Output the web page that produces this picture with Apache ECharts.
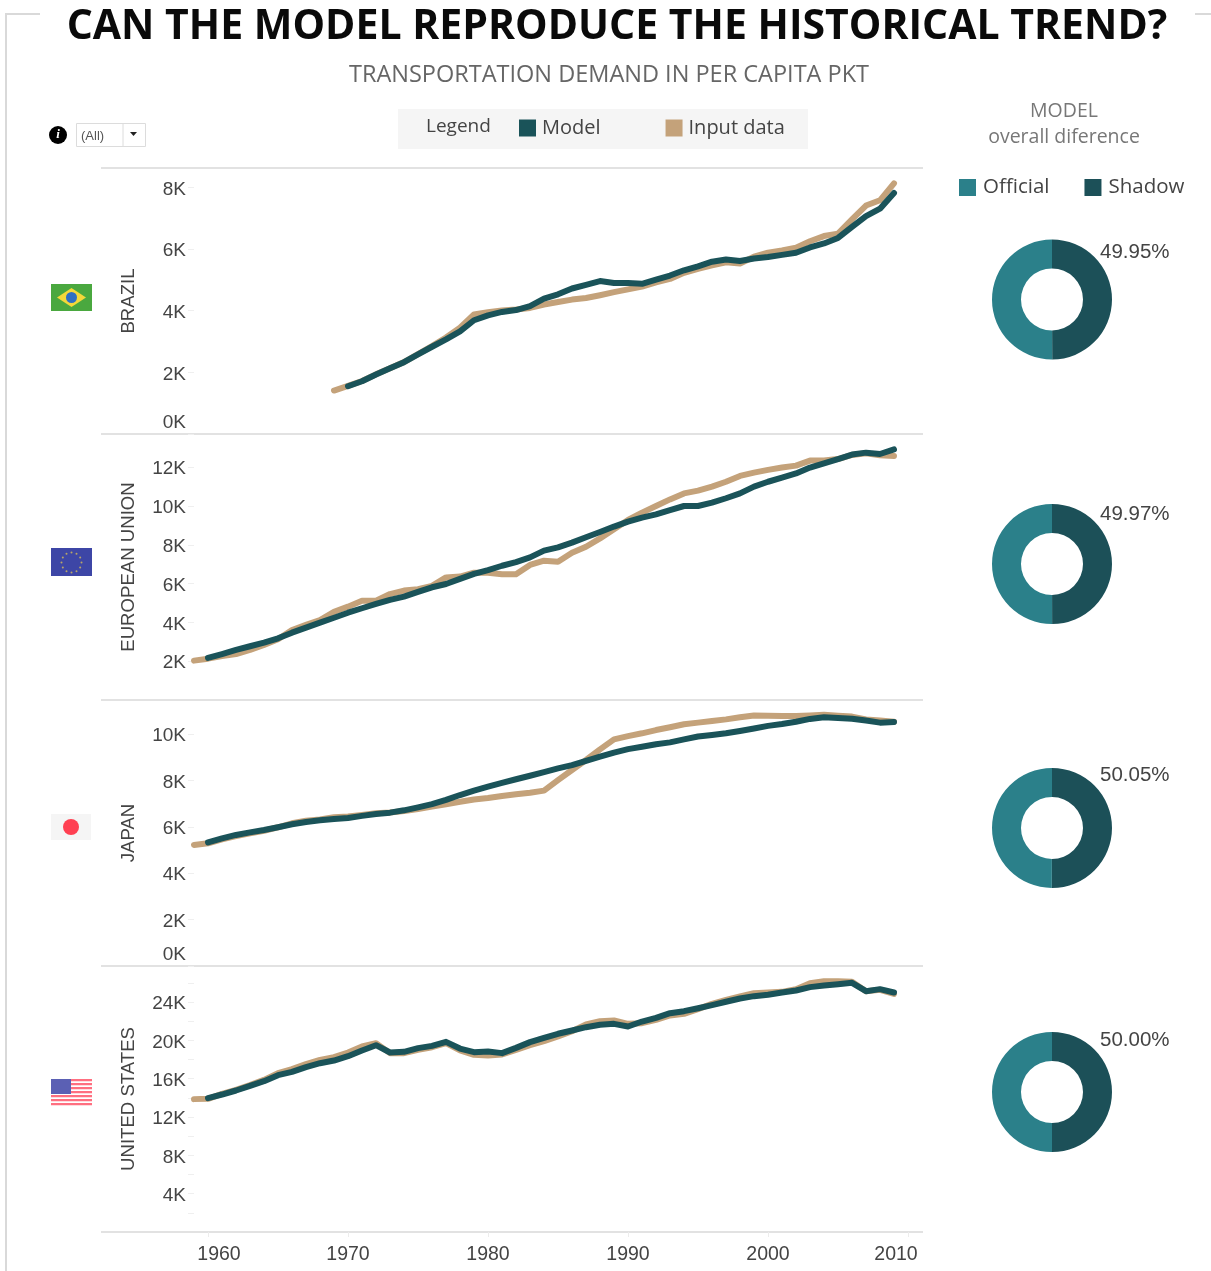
<!DOCTYPE html>
<html>
<head>
<meta charset="utf-8">
<style>html,body{margin:0;padding:0;background:#fff}#chart{width:1211px;height:1271px}</style>
<script src="https://cdn.jsdelivr.net/npm/echarts@6/dist/echarts.min.js"></script>
</head>
<body>
<div id="chart"></div>
<script>
// Passenger-km per capita, one pair of series per region.
const brazilInputStart = 1969;
const brazilInput = [1410,1560,1720,1935,2130,2335,2590,2850,3130,3450,3880,3950,4010,4040,4090,4200,4280,4360,4410,4500,4600,4690,4780,4920,5030,5230,5360,5470,5570,5530,5750,5880,5950,6040,6250,6420,6500,6960,7410,7580,8130];
const brazilModelStart = 1970;
const brazilModel = [1550,1710,1930,2130,2330,2580,2830,3070,3330,3690,3850,3960,4020,4150,4390,4530,4720,4840,4960,4900,4900,4870,5010,5140,5310,5440,5590,5660,5610,5690,5740,5810,5880,6050,6180,6360,6720,7070,7310,7820];

const euInputStart = 1959;
const euInput = [2030,2130,2270,2370,2580,2840,3130,3610,3870,4120,4550,4810,5120,5120,5460,5640,5710,5880,6320,6360,6560,6560,6480,6480,6960,7180,7130,7590,7900,8330,8800,9280,9660,10000,10340,10650,10790,11000,11250,11550,11720,11860,11980,12080,12340,12340,12420,12630,12720,12610,12580];
const euModelStart = 1960;
const euModel = [2170,2370,2580,2770,2960,3180,3470,3730,3990,4240,4500,4730,4950,5160,5330,5570,5810,5980,6240,6500,6700,6920,7110,7350,7700,7870,8110,8390,8660,8940,9190,9400,9570,9790,10000,10000,10170,10400,10650,11000,11250,11460,11680,11980,12200,12420,12650,12750,12680,12920];

const japanInputStart = 1959;
const japanInput = [5220,5290,5460,5600,5720,5830,5980,6150,6260,6320,6410,6440,6510,6580,6620,6680,6770,6870,6970,7080,7180,7240,7330,7400,7470,7560,8010,8450,8880,9340,9770,9910,10030,10170,10290,10420,10490,10560,10630,10720,10800,10790,10780,10780,10800,10830,10790,10750,10630,10580,10530];
const japanModelStart = 1960;
const japanModel = [5330,5500,5650,5760,5860,5980,6110,6210,6280,6340,6380,6470,6550,6610,6710,6840,6980,7160,7370,7560,7730,7890,8050,8200,8360,8520,8660,8840,9020,9200,9350,9450,9560,9640,9770,9890,9960,10030,10130,10240,10350,10430,10530,10650,10720,10690,10660,10580,10490,10520];

const usInputStart = 1959;
const usInput = [13870,13900,14420,14840,15330,15880,16580,17000,17520,17970,18250,18740,19360,19710,18670,18670,19020,19290,19710,18950,18490,18420,18530,19020,19500,19920,20410,20960,21660,22010,22080,21730,21800,22150,22600,22770,23260,23820,24230,24580,24930,25000,25070,25350,25970,26180,26180,26110,25140,25280,24860];
const usModelStart = 1960;
const usModel = [13970,14350,14770,15260,15740,16370,16720,17210,17620,17900,18350,18950,19500,18740,18810,19190,19430,19850,19150,18770,18840,18670,19220,19820,20270,20690,21030,21380,21630,21730,21450,21970,22360,22840,23050,23360,23680,24030,24370,24620,24760,25000,25210,25560,25730,25870,26010,25140,25350,25000];

// Model share of the overall difference, Shadow slice, in percent.
const regions = ['BRAZIL', 'EUROPEAN UNION', 'JAPAN', 'UNITED STATES'];
const shadowShare = [49.95, 49.97, 50.05, 50.00];
const officialShare = [50.05, 50.03, 49.95, 50.00];

// Axis ticks and labels.
const xLabelYears = [1960, 1970, 1980, 1990, 2000, 2010];
const brazilLabels = [0, 2000, 4000, 6000, 8000];
const euLabels = [2000, 4000, 6000, 8000, 10000, 12000];
const japanLabels = [0, 2000, 4000, 6000, 8000, 10000];
const usLabels = [4000, 8000, 12000, 16000, 20000, 24000];
const usTicks = [2000,4000,6000,8000,10000,12000,14000,16000,18000,20000,22000,24000,26000];

const COLOR_MODEL = '#1a5359';
const COLOR_INPUT = '#c4a27a';
const COLOR_OFFICIAL = '#2b808a';
const COLOR_SHADOW = '#1c5058';
const TEXT = '#444';
const RULE = '#e2e2e2';
const TICK_FONT = 'Liberation Sans';
const UI_FONT = 'Open Sans';

const panels = [
  { top: 168, max: 8628, ticks: brazilLabels, labels: brazilLabels,
    input: [brazilInputStart, brazilInput], model: [brazilModelStart, brazilModel], cy: 299.5, labelY: 252 },
  { top: 434, max: 13711, ticks: euLabels, labels: euLabels,
    input: [euInputStart, euInput], model: [euModelStart, euModel], cy: 564, labelY: 514 },
  { top: 700, max: 11466, ticks: japanLabels, labels: japanLabels,
    input: [japanInputStart, japanInput], model: [japanModelStart, japanModel], cy: 828, labelY: 775 },
  { top: 966, max: 27766, ticks: usTicks, labels: usLabels,
    input: [usInputStart, usInput], model: [usModelStart, usModel], cy: 1092, labelY: 1040 }
];

const byYear = ([start, values]) => values.map((v, i) => [start + i, v]);

const lineSeries = (name, color, source, i, z) => ({
  type: 'line', name, xAxisIndex: i, yAxisIndex: i, z,
  data: byYear(source), showSymbol: false, symbol: 'none', smooth: false,
  lineStyle: { color, width: 6, cap: 'round', join: 'round' },
  itemStyle: { color }
});

const series = [];
panels.forEach((p, i) => {
  series.push(lineSeries('Input data', COLOR_INPUT, p.input, i, 2));
  series.push(lineSeries('Model', COLOR_MODEL, p.model, i, 3));
  series.push({
    type: 'pie', name: regions[i], center: [1052, p.cy], radius: [31, 60],
    startAngle: 90, clockwise: true, silent: true, avoidLabelOverlap: false,
    data: [
      { name: 'Shadow', value: shadowShare[i], itemStyle: { color: COLOR_SHADOW },
        label: { show: true, position: 'outside', color: TEXT, fontFamily: TICK_FONT, fontSize: 20.5,
                 formatter: d => d.value.toFixed(2) + '%' },
        labelLine: { show: false } },
      { name: 'Official', value: officialShare[i], itemStyle: { color: COLOR_OFFICIAL },
        label: { show: false }, labelLine: { show: false } }
    ],
    labelLayout: () => ({ x: 1100, y: p.labelY, align: 'left', verticalAlign: 'middle' })
  });
});

const grids = panels.map(p => ({ left: 194, width: 728, top: p.top, height: 266 }));

const xAxes = panels.map((p, i) => {
  const last = i === panels.length - 1;
  return {
    type: 'value', gridIndex: i, min: 1959, max: 2011, splitLine: { show: false },
    axisLine: { show: false },
    axisTick: { show: last, customValues: xLabelYears, length: 5, lineStyle: { color: '#ececec' } },
    axisLabel: {
      show: last, customValues: xLabelYears, margin: 13,
      formatter: v => v === 1960 ? '{first|1960}' : v === 2010 ? '{final|2010}' : '{plain|' + v + '}',
      rich: {
        plain: { color: TEXT, fontFamily: TICK_FONT, fontSize: 19.5 },
        first: { color: TEXT, fontFamily: TICK_FONT, fontSize: 19.5, padding: [0, 0, 0, 22] },
        final: { color: TEXT, fontFamily: TICK_FONT, fontSize: 19.5, padding: [0, 24, 0, 0] }
      }
    }
  };
});

const yAxes = panels.map((p, i) => ({
  type: 'value', gridIndex: i, min: 0, max: p.max, splitLine: { show: false },
  name: regions[i], nameLocation: 'middle', nameGap: 56,
  nameTextStyle: { color: TEXT, fontFamily: TICK_FONT, fontSize: 18.6 },
  axisLine: { show: false },
  axisTick: { show: true, customValues: p.ticks, length: 6, lineStyle: { color: '#efefef' } },
  axisLabel: {
    customValues: p.labels, margin: 8,
    formatter: v => v === 0 ? '{zero|0K}' : '{plain|' + (v / 1000) + 'K}',
    rich: {
      plain: { color: TEXT, fontFamily: TICK_FONT, fontSize: 19, padding: [4, 0, 0, 0] },
      zero: { color: TEXT, fontFamily: TICK_FONT, fontSize: 19, padding: [0, 0, 22, 0] }
    }
  }
}));

// Page furniture: frame, rules, filter control, legend panel, flags.
const line = (x1, y1, x2, y2, stroke, lineWidth) =>
  ({ type: 'line', shape: { x1, y1, x2, y2 }, style: { stroke, lineWidth }, silent: true });
const rect = (x, y, width, height, fill, extra) =>
  ({ type: 'rect', shape: { x, y, width, height }, style: Object.assign({ fill }, extra || {}), silent: true });
const label = (x, y, text, font, fill, align) =>
  ({ type: 'text', x, y, style: { text, font, fill, align: align || 'left', verticalAlign: 'middle' }, silent: true });

const flagUS = [rect(51, 1079, 41, 28, '#fff')];
for (let k = 0; k < 7; k++) flagUS.push(rect(51, 1079 + k * 4, 41, 2.2, '#ff6f80'));
flagUS.push(rect(51, 1079, 20, 15, '#5b60b4'));

const euStars = [];
for (let k = 0; k < 12; k++) {
  const a = k * Math.PI / 6;
  euStars.push({ type: 'circle', shape: { cx: 71.5 + 10 * Math.cos(a), cy: 562.5 + 10 * Math.sin(a), r: 1 },
    style: { fill: '#b9a667' }, silent: true });
}

const graphics = [
  line(6, 14, 6, 1271, '#d9d9d9', 2),
  line(5, 14, 40, 14, '#d9d9d9', 2),
  line(1195, 14, 1211, 14, '#d9d9d9', 2),
  ...panels.map(p => line(101, p.top, 923, p.top, RULE, 2)),
  line(101, 1232, 923, 1232, RULE, 2),

  { type: 'circle', shape: { cx: 58, cy: 135, r: 9 }, style: { fill: '#000' }, silent: true },
  label(58, 135, 'i', 'italic bold 13px "Liberation Serif"', '#fff', 'center'),
  rect(76.5, 123.5, 69, 23, '#fff', { stroke: '#dcdcdc', lineWidth: 1 }),
  line(123, 124, 123, 146, '#dcdcdc', 1),
  label(81, 136, '(All)', '13px "Liberation Sans"', '#555'),
  { type: 'polygon', shape: { points: [[130, 132], [137, 132], [133.5, 136]] }, style: { fill: '#222' }, silent: true },

  rect(398, 109, 410, 40, '#f5f5f5'),
  label(426, 127, 'Legend', '19px "Open Sans"', '#444'),

  label(1064, 111, 'MODEL', '19.5px "Open Sans"', '#777', 'center'),
  label(1064, 137, 'overall diference', '19.5px "Open Sans"', '#777', 'center'),

  rect(51, 284, 41, 27, '#4aa83f'),
  { type: 'polygon', shape: { points: [[57, 297.5], [71.5, 288], [86, 297.5], [71.5, 307]] }, style: { fill: '#f4d83a' }, silent: true },
  { type: 'circle', shape: { cx: 71.5, cy: 297.5, r: 5.5 }, style: { fill: '#2f6fc4' }, silent: true },

  rect(51, 548, 41, 28, '#3d46a6'),
  ...euStars,

  rect(51, 814, 40, 26, '#f5f5f5'),
  { type: 'circle', shape: { cx: 71, cy: 827, r: 8 }, style: { fill: '#ff4052' }, silent: true },

  ...flagUS
];

const chart = echarts.init(document.getElementById('chart'), null, { renderer: 'canvas' });
chart.setOption({
  animation: false,
  backgroundColor: '#fff',
  title: [
    { text: 'CAN THE MODEL REPRODUCE THE HISTORICAL TREND?', left: 612, top: -3, textAlign: 'center',
      textStyle: { fontFamily: UI_FONT, fontWeight: 'bold', fontSize: 41, color: '#0a0a0a', lineHeight: 50 } },
    { text: 'TRANSPORTATION DEMAND IN PER CAPITA PKT', left: 604, top: 57, textAlign: 'center',
      textStyle: { fontFamily: UI_FONT, fontWeight: 'normal', fontSize: 23.5, color: '#666', lineHeight: 26 } }
  ],
  legend: [
    { data: ['Model', 'Input data'], left: 519, top: 118, orient: 'horizontal', icon: 'rect',
      itemWidth: 17, itemHeight: 17, itemGap: 65, padding: 0, selectedMode: false,
      textStyle: { fontFamily: UI_FONT, fontSize: 20, color: '#444', padding: [0, 0, 0, 1] } },
    { data: ['Official', 'Shadow'], left: 959, top: 177, orient: 'horizontal', icon: 'rect',
      itemWidth: 17, itemHeight: 17, itemGap: 35, padding: 0, selectedMode: false,
      textStyle: { fontFamily: UI_FONT, fontSize: 20.5, color: '#444', padding: [0, 0, 0, 2] } }
  ],
  grid: grids,
  xAxis: xAxes,
  yAxis: yAxes,
  series,
  graphic: { elements: graphics }
});
</script>
</body>
</html>
